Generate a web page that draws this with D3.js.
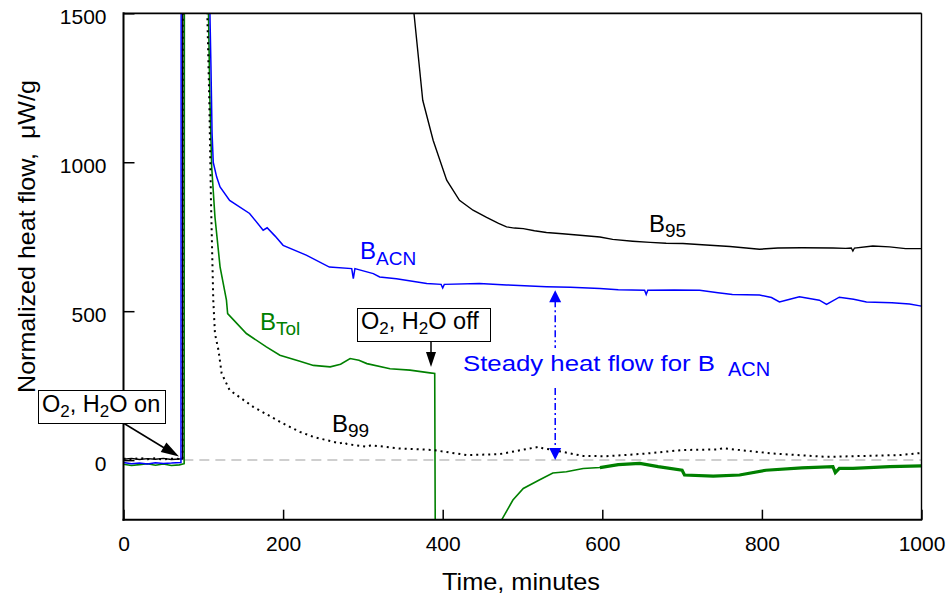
<!DOCTYPE html>
<html>
<head>
<meta charset="utf-8">
<script src="https://cdn.jsdelivr.net/npm/d3@7.9.0/dist/d3.min.js"></script>
<style>
  body { margin: 0; background: #fff; }
  svg { display: block; font-family: Arial, "Liberation Sans", sans-serif; }
</style>
</head>
<body>
<div id="chart"></div>
<script>
// time (min), normalized heat flow (uW/g); values above 1500 / below -200 run off the plot
const b95 = [
  [0, 3], [10, 6], [20, 2], [30, 5], [40, 3], [50, 6], [60, 2], [70, 4], [74, 4],
  [74.5, 3000], [360, 3000], [364, 1500], [375, 1208], [388, 1074], [405, 940],
  [421, 872], [438, 839], [455, 815], [470, 795], [480, 783], [490, 779], [501, 777],
  [515, 770], [530, 764], [550, 760], [572, 755], [597, 749], [613, 741], [638, 735],
  [660, 731], [680, 728], [701, 727], [730, 722], [760, 717], [797, 708], [820, 712],
  [850, 713], [889, 712], [905, 711], [912, 712], [914, 702], [916, 712], [939, 719],
  [960, 716], [980, 710], [1000, 710]
];
const bACN = [
  [0, -8], [10, -12], [20, -10], [30, -13], [40, -9], [50, -11], [60, -10], [72, -8],
  [72.5, 3000], [108, 3000], [108.3, 1500], [109.6, 1321], [111, 1097], [112.5, 999],
  [116.7, 951], [121, 917], [133, 872], [158, 828], [175, 772], [180, 780], [190, 752],
  [200, 721], [229, 688], [258, 648], [286, 643], [288, 609], [290, 643], [313, 626],
  [321, 615], [342, 609], [380, 593], [398, 590], [400, 578], [402, 590], [446, 593],
  [480, 588], [530, 582], [560, 580], [597, 576], [620, 572], [653, 570], [655, 556],
  [657, 570], [690, 571], [722, 570], [745, 562], [763, 556], [797, 554], [812, 546],
  [822, 531], [835, 540], [847, 548], [872, 537], [881, 523], [897, 547], [915, 540],
  [931, 531], [963, 528], [985, 524], [1000, 517]
];
const bTol = [
  [0, -14], [10, -18], [20, -15], [30, -12], [40, -17], [50, -13], [60, -18], [70, -16],
  [76, -12], [76.5, 3000], [106, 3000], [106.5, 1500], [108.3, 1208], [110.5, 985],
  [114.6, 816], [121, 649], [129, 537], [130.5, 492], [154, 425], [179, 380], [196, 352],
  [221, 332], [238, 318], [259, 313], [272, 322], [284, 341], [295, 335], [305, 324],
  [334, 307], [359, 302], [384, 293], [390, 291], [391, -500], [472, -500], [474, -200],
  [488, -134], [501, -95], [521, -67], [538, -43], [555, -39], [576, -28], [597, -25],
  [620, -15], [647, -11], [670, -22], [700, -34], [703, -50], [739, -54], [772, -50],
  [805, -34], [850, -26], [889, -22], [892, -42], [897, -28], [914, -28], [960, -22],
  [1000, -19]
];
const b99 = [
  [0, 5], [10, 2], [20, 7], [30, 3], [40, 6], [50, 2], [60, 5], [70, 4], [74, 3],
  [74.5, 3000], [104.5, 3000], [105, 1500], [107.5, 1208], [109.6, 872], [112.5, 537],
  [114.6, 425], [119, 369], [123, 291], [133, 235], [162.5, 179], [200, 123], [221, 95],
  [238, 78], [271, 56], [276, 60], [280, 54], [305, 45], [310, 50], [346, 39], [388, 34],
  [430, 17], [471, 20], [521, 45], [525, 40], [538, 34], [576, 14], [605, 13], [655, 22],
  [701, 34], [747, 36], [750, 40], [814, 22], [881, 11], [973, 17], [1000, 24]
];

const xTicks = [0, 200, 400, 600, 800, 1000];
const yTicks = [0, 500, 1000, 1500];
const zeroLineFrom = 75;
const noisyFrom = 597; // B_Tol signal becomes jittery after re-exposure
const steadyAt = 541, steadyTop = 570, steadyBottom = 0;

const width = 951, height = 599;
const mLeft = 123.5, mRight = 921.5, mTop = 13.3, mBottom = 519.7;

const svg = d3.select('#chart').append('svg')
  .attr('width', width).attr('height', height);

const x = d3.scaleLinear().domain([0, 1000]).range([mLeft, mRight]);
const y = d3.scaleLinear().domain([-200, 1500]).range([mBottom, mTop]);

svg.append('clipPath').attr('id', 'plot')
  .append('rect').attr('x', mLeft).attr('y', mTop)
  .attr('width', mRight - mLeft).attr('height', mBottom - mTop);

const plot = svg.append('g').attr('clip-path', 'url(#plot)');

// zero reference
plot.append('line')
  .attr('x1', x(zeroLineFrom)).attr('x2', x(1000))
  .attr('y1', y(0)).attr('y2', y(0))
  .attr('stroke', '#c0c0c0').attr('stroke-width', 1.5)
  .attr('stroke-dasharray', '10,6');

const line = d3.line().x(d => x(d[0])).y(d => y(d[1]));

plot.append('path').datum(bTol).attr('d', line)
  .attr('fill', 'none').attr('stroke', '#008000').attr('stroke-width', 1.6);
plot.append('path').datum(bTol.filter(d => d[0] >= noisyFrom)).attr('d', line)
  .attr('fill', 'none').attr('stroke', '#008000').attr('stroke-width', 3.2);
plot.append('path').datum(b99).attr('d', line)
  .attr('fill', 'none').attr('stroke', '#000').attr('stroke-width', 2)
  .attr('stroke-dasharray', '2,4');
plot.append('path').datum(b95).attr('d', line)
  .attr('fill', 'none').attr('stroke', '#000').attr('stroke-width', 1.4);
plot.append('path').datum(bACN).attr('d', line)
  .attr('fill', 'none').attr('stroke', '#0000ff').attr('stroke-width', 1.5);

// axes
const xAxis = svg.append('g')
  .attr('transform', `translate(0, ${mBottom})`)
  .call(d3.axisBottom(x).tickValues(xTicks).tickFormat(d3.format('d'))
    .tickSize(-10).tickPadding(16));
const yAxis = svg.append('g')
  .attr('transform', `translate(${mLeft}, 0)`)
  .call(d3.axisLeft(y).tickValues(yTicks).tickFormat(d3.format('d'))
    .tickSize(-11).tickPadding(17));

[xAxis, yAxis].forEach(g => {
  g.select('.domain').remove();
  g.selectAll('line').attr('stroke', '#000').attr('stroke-width', 1.5);
  g.selectAll('text').attr('font-size', 21).attr('fill', '#000')
    .attr('font-family', 'Arial, "Liberation Sans", sans-serif');
});
yAxis.selectAll('text').attr('dy', '0.5em');

// frame
svg.append('line').attr('x1', mLeft).attr('x2', mRight).attr('y1', mTop).attr('y2', mTop)
  .attr('stroke', '#000').attr('stroke-width', 1.8);
svg.append('line').attr('x1', mRight).attr('x2', mRight).attr('y1', mTop).attr('y2', mBottom)
  .attr('stroke', '#000').attr('stroke-width', 1.4);
svg.append('line').attr('x1', mLeft).attr('x2', mLeft).attr('y1', mTop - 1).attr('y2', mBottom + 1)
  .attr('stroke', '#000').attr('stroke-width', 2);
svg.append('line').attr('x1', mLeft - 1).attr('x2', mRight + 0.7).attr('y1', mBottom).attr('y2', mBottom)
  .attr('stroke', '#000').attr('stroke-width', 2);

// axis titles
svg.append('text').attr('x', 442).attr('y', 590)
  .attr('font-size', 24).attr('textLength', 158).attr('lengthAdjust', 'spacingAndGlyphs')
  .text('Time, minutes');
svg.append('text')
  .attr('transform', 'translate(35, 393) rotate(-90)')
  .attr('font-size', 24).attr('textLength', 313).attr('lengthAdjust', 'spacingAndGlyphs')
  .attr('xml:space', 'preserve')
  .text('Normalized heat flow,  \u03bcW/g');

// text with subscripts: parts = [[text, isSub], ...]
function richText(px, py, parts, size, subSize, color, shift) {
  const t = svg.append('text').attr('x', px).attr('y', py)
    .attr('font-size', size).attr('fill', color).attr('xml:space', 'preserve');
  let down = false;
  parts.forEach(([s, sub]) => {
    const span = t.append('tspan').text(s);
    if (sub && !down) { span.attr('dy', shift).attr('font-size', subSize); down = true; }
    else if (sub) { span.attr('font-size', subSize); }
    else if (down) { span.attr('dy', -shift); down = false; }
  });
  return t;
}

richText(649, 232, [['B'], ['95', true]], 24, 19, '#000', 5);
richText(360, 259, [['B'], ['ACN', true]], 24, 19, '#0000ff', 6);
richText(260, 330, [['B'], ['Tol', true]], 24, 19, '#008000', 5);
richText(332, 431.5, [['B'], ['99', true]], 24, 19, '#000', 5);

// steady heat flow annotation
svg.append('text').attr('x', 463).attr('y', 371).attr('font-size', 22)
  .attr('fill', '#0000ff').attr('textLength', 252).attr('lengthAdjust', 'spacingAndGlyphs')
  .text('Steady heat flow for B');
svg.append('text').attr('x', 728).attr('y', 376).attr('font-size', 20)
  .attr('fill', '#0000ff').text('ACN');

const ax = x(steadyAt), aTop = y(steadyTop), aBot = y(steadyBottom);
const dashDot = '7,3,2,3';
svg.append('line').attr('x1', ax).attr('x2', ax).attr('y1', aTop + 10).attr('y2', 348)
  .attr('stroke', '#0000ff').attr('stroke-width', 1.5).attr('stroke-dasharray', dashDot);
svg.append('line').attr('x1', ax).attr('x2', ax).attr('y1', 388).attr('y2', aBot - 10)
  .attr('stroke', '#0000ff').attr('stroke-width', 1.5).attr('stroke-dasharray', dashDot);

function head(tipX, tipY, ang, len, w, color) {
  // ang: direction the arrow points, radians
  const bx = tipX - Math.cos(ang) * len, by = tipY - Math.sin(ang) * len;
  const nx = -Math.sin(ang) * w / 2, ny = Math.cos(ang) * w / 2;
  svg.append('path')
    .attr('d', `M${tipX},${tipY}L${bx + nx},${by + ny}L${bx - nx},${by - ny}Z`)
    .attr('fill', color);
}
head(ax, aTop, -Math.PI / 2, 12, 12, '#0000ff');
head(ax, aBot, Math.PI / 2, 12, 12, '#0000ff');

// gas switch boxes
function box(bx, by, bw, bh) {
  svg.append('rect').attr('x', bx).attr('y', by).attr('width', bw).attr('height', bh)
    .attr('fill', '#fff').attr('stroke', '#000').attr('stroke-width', 1);
}

// "on" arrow
svg.append('line').attr('x1', 120).attr('y1', 421).attr('x2', 166).attr('y2', 449)
  .attr('stroke', '#000').attr('stroke-width', 1.5);
head(179, 456.5, Math.atan2(456.5 - 421, 179 - 120), 18, 11, '#000');
box(38.5, 390.5, 127, 33);
richText(42, 412, [['O'], ['2', true], [', H'], ['2', true], ['O on']], 23.5, 17, '#000', 5);

// "off" arrow
svg.append('line').attr('x1', 431).attr('y1', 342).attr('x2', 431).attr('y2', 354)
  .attr('stroke', '#000').attr('stroke-width', 1.5);
head(431, 367, Math.PI / 2, 15, 10, '#000');
box(357.5, 308.5, 133, 33);
richText(361, 328.5, [['O'], ['2', true], [', H'], ['2', true], ['O off']], 23.5, 17, '#000', 5);
</script>
</body>
</html>
